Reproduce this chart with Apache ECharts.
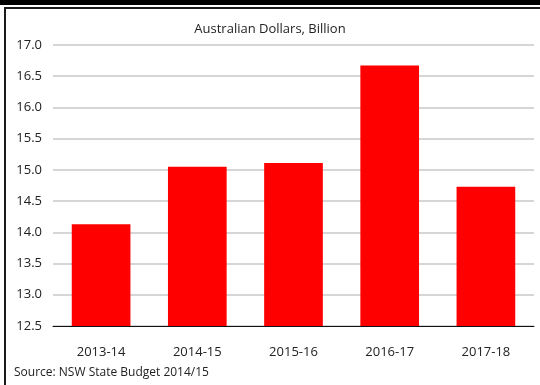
<!DOCTYPE html>
<html>
<head>
<meta charset="utf-8">
<script src="https://cdn.jsdelivr.net/npm/echarts@6/dist/echarts.min.js"></script>
<style>
  html, body { margin: 0; padding: 0; background: #fff; }
  #chart { width: 540px; height: 385px; }
</style>
</head>
<body>
<div id="chart"></div>
<script>
// NSW state budget figures, AUD billion
const years = ['2013-14', '2014-15', '2015-16', '2016-17', '2017-18'];
const spending = [14.13, 15.05, 15.11, 16.67, 14.73];
const yTicks = [12.5, 13.0, 13.5, 14.0, 14.5, 15.0, 15.5, 16.0, 16.5, 17.0];

const FONT = '"Open Sans", "Noto Sans", sans-serif';
const chart = echarts.init(document.getElementById('chart'), null, { renderer: 'canvas' });

chart.setOption({
  backgroundColor: '#ffffff',
  animation: false,
  title: {
    text: 'Australian Dollars, Billion',
    left: 'center',
    top: 18,
    textStyle: { fontFamily: FONT, fontSize: 13, fontWeight: 'normal', color: '#222' }
  },
  grid: { left: 53, right: 6, top: 45, bottom: 59, containLabel: false },
  xAxis: {
    type: 'category',
    data: years,
    axisLine: { lineStyle: { color: '#111', width: 1 } },
    axisTick: { inside: true, length: 5, lineStyle: { color: '#111' } },
    axisLabel: { fontFamily: FONT, fontSize: 13, color: '#222', margin: 20 }
  },
  yAxis: {
    type: 'value',
    min: yTicks[0],
    max: yTicks[yTicks.length - 1],
    interval: 0.5,
    axisLine: { show: false },
    axisTick: { show: false },
    splitLine: { lineStyle: { color: '#c8c8c8', width: 1.5 } },
    axisLabel: {
      fontFamily: FONT, fontSize: 13, color: '#222', margin: 11,
      formatter: v => v.toFixed(1)
    }
  },
  series: [{
    type: 'bar',
    data: spending,
    barWidth: '61%',
    itemStyle: { color: '#ff0000' }
  }],
  graphic: [
    { type: 'rect', shape: { x: 0, y: 0, width: 540, height: 5 }, style: { fill: '#000' }, z: 100 },
    { type: 'rect', shape: { x: 4, y: 7, width: 540, height: 2 }, style: { fill: '#1a1a1a' }, z: 100 },
    { type: 'rect', shape: { x: 4, y: 7, width: 2, height: 385 }, style: { fill: '#1a1a1a' }, z: 100 },
    {
      type: 'text', left: 14, top: 367,
      style: { text: 'Source: NSW State Budget 2014/15', font: '12px ' + FONT, fill: '#222' }
    }
  ]
});
</script>
</body>
</html>
